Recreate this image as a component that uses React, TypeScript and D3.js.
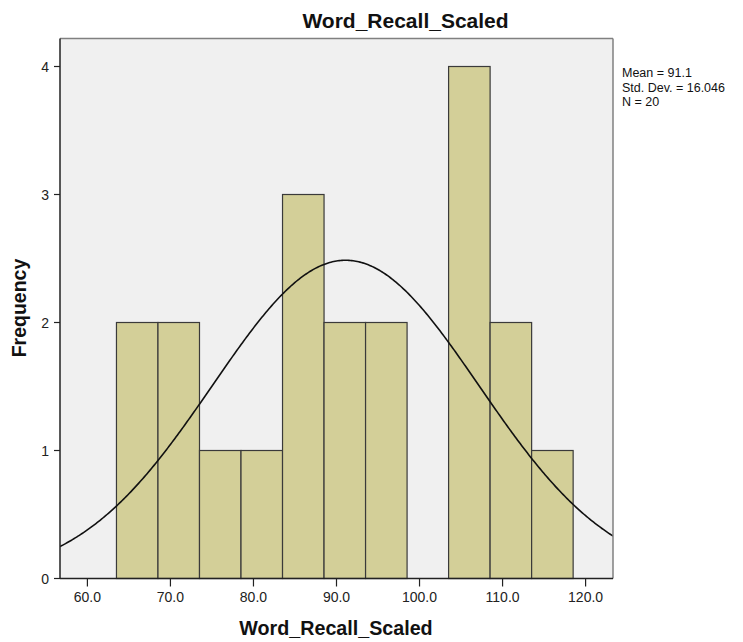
import React from "react";
import * as d3 from "d3";

const binStarts = [63.5, 68.5, 73.5, 78.5, 83.5, 88.5, 93.5, 98.5, 103.5, 108.5, 113.5];
const binWidth = 5;
const counts = [2, 2, 1, 1, 3, 2, 2, 0, 4, 2, 1];
const xTicks = [60, 70, 80, 90, 100, 110, 120];
const yTicks = [0, 1, 2, 3, 4];
const mean = 91.1;
const sd = 16.046;
const n = 20;
const legendLines = ["Mean = 91.1", "Std. Dev. = 16.046", "N = 20"];

const W = 743, H = 642;
const L = 60, R = 613, T = 38.5, B = 578.5;
const font = "'Liberation Sans', Arial, sans-serif";

export default function App() {
  const x = d3.scaleLinear().domain([56.7, 123.3]).range([L, R]);
  const y = d3.scaleLinear().domain([0, 4]).range([B, 66.5]);
  const pdf = (v: number) =>
    (n * binWidth) / (sd * Math.sqrt(2 * Math.PI)) * Math.exp(-0.5 * ((v - mean) / sd) ** 2);
  const xs = d3.range(0, 401).map((i) => 56.7 + (66.6 * i) / 400);
  const line = d3.line<number>().x((v) => x(v)).y((v) => y(pdf(v)));
  return (
    <svg width={W} height={H} style={{ position: "absolute", left: 0, top: 0 }}>
      <rect x={0} y={0} width={W} height={H} fill="#fff" />
      <rect x={L} y={T} width={R - L} height={B - T} fill="#f0f0f0" />
      {counts.map((c, i) =>
        c > 0 ? (
          <rect
            key={i}
            x={x(binStarts[i])}
            y={y(c)}
            width={x(binStarts[i] + binWidth) - x(binStarts[i])}
            height={y(0) - y(c)}
            fill="#d3cf98"
            stroke="#3a3a3a"
            strokeWidth={1.2}
          />
        ) : null
      )}
      <defs>
        <clipPath id="clip">
          <rect x={L} y={T} width={R - L} height={B - T} />
        </clipPath>
      </defs>
      <path d={line(xs) || ""} fill="none" stroke="#111" strokeWidth={1.6} clipPath="url(#clip)" />
      <line x1={L} x2={R} y1={T} y2={T} stroke="#808080" strokeWidth={1.5} />
      <line x1={R} x2={R} y1={T} y2={B} stroke="#808080" strokeWidth={1.5} />
      <line x1={L} x2={L} y1={T} y2={B} stroke="#222" strokeWidth={1.5} />
      <line x1={L} x2={R} y1={B} y2={B} stroke="#222" strokeWidth={1.5} />
      {yTicks.map((t) => (
        <g key={t}>
          <line x1={L - 6} x2={L} y1={y(t)} y2={y(t)} stroke="#222" strokeWidth={1.2} />
          <text x={L - 11} y={y(t) + 5} textAnchor="end" fontFamily={font} fontSize={14} fill="#222">
            {t}
          </text>
        </g>
      ))}
      {xTicks.map((t) => (
        <g key={t}>
          <line x1={x(t)} x2={x(t)} y1={B} y2={B + 8} stroke="#222" strokeWidth={1.2} />
          <text x={x(t)} y={602} textAnchor="middle" fontFamily={font} fontSize={14} fill="#222">
            {t.toFixed(1)}
          </text>
        </g>
      ))}
      <text x={405.5} y={28} textAnchor="middle" fontFamily={font} fontSize={21} fontWeight="bold" fill="#111">
        Word_Recall_Scaled
      </text>
      <text x={336} y={635} textAnchor="middle" fontFamily={font} fontSize={19.7} fontWeight="bold" fill="#111">
        Word_Recall_Scaled
      </text>
      <text
        transform={`translate(25.5,308) rotate(-90)`}
        textAnchor="middle"
        fontFamily={font}
        fontSize={19.5}
        fontWeight="bold"
        fill="#111"
      >
        Frequency
      </text>
      {legendLines.map((s, i) => (
        <text key={i} x={622} y={77 + i * 14.5} fontFamily={font} fontSize={12.5} fill="#111">
          {s}
        </text>
      ))}
    </svg>
  );
}
